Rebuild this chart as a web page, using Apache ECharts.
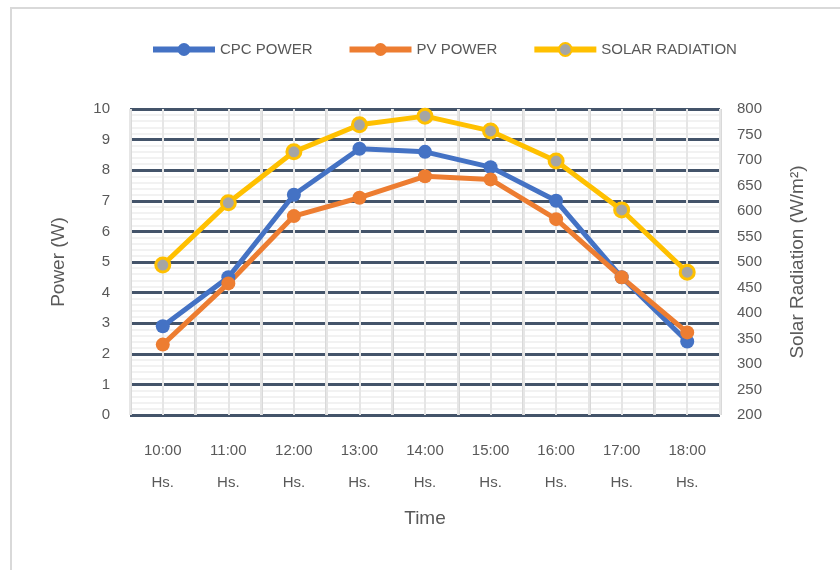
<!DOCTYPE html>
<html>
<head>
<meta charset="utf-8">
<script src="https://cdn.jsdelivr.net/npm/echarts@6/dist/echarts.min.js"></script>
<style>
  html, body { margin: 0; padding: 0; background: #fff; }
  #chart { width: 840px; height: 570px; }
</style>
</head>
<body>
<div id="chart"></div>
<script>
    var hours = ['10:00', '11:00', '12:00', '13:00', '14:00', '15:00', '16:00', '17:00', '18:00'];
    var cpcPower = [2.9, 4.5, 7.2, 8.7, 8.6, 8.1, 7.0, 4.5, 2.4];
    var pvPower = [2.3, 4.3, 6.5, 7.1, 7.8, 7.7, 6.4, 4.5, 2.7];
    var solarRadiation = [494, 616, 716, 769, 786, 757, 698, 602, 480];

    var chartDom = document.getElementById('chart');
    var chart = echarts.init(chartDom);

    var textGray = '#595959';
    var fontFam = '"Liberation Sans Narrow", "Liberation Sans", sans-serif';

    function lineSeries(name, data, color, axisIdx, symbolColor) {
      return {
        name: name,
        type: 'line',
        yAxisIndex: axisIdx,
        data: data,
        symbol: 'circle',
        symbolSize: 14,
        lineStyle: { width: 5, color: color },
        itemStyle: {
          color: symbolColor || color,
          borderColor: color,
          borderWidth: symbolColor ? 3 : 0
        },
        z: 5
      };
    }

    var option = {
      animation: false,
      graphic: [{
        type: 'rect',
        shape: { x: 11, y: 8, width: 840, height: 580 },
        style: { fill: 'none', stroke: '#d9d9d9', lineWidth: 2 },
        silent: true
      }],
      legend: {
        top: 37,
        left: 145,
        itemWidth: 62,
        itemHeight: 16,
        itemGap: 34,
        lineStyle: { width: 6 },
        textStyle: { color: textGray, fontSize: 15, fontFamily: fontFam },
        data: ['CPC POWER', 'PV POWER', 'SOLAR RADIATION']
      },
      grid: { left: 130, right: 120, top: 109, bottom: 155 },
      xAxis: [{
        type: 'category',
        data: hours.map(h => h + '\nHs.'),
        name: 'Time',
        nameLocation: 'middle',
        nameGap: 94,
        nameTextStyle: { color: textGray, fontSize: 19, fontFamily: fontFam },
        axisLine: { show: false },
        axisTick: { show: false },
        axisLabel: {
          color: textGray, fontSize: 15, fontFamily: fontFam,
          lineHeight: 32, margin: 20
        },
        splitLine: { show: true, lineStyle: { color: '#d9d9d9', width: 3 } }
      }, {
        type: 'value',
        min: 0, max: 18, interval: 1,
        show: true,
        axisLine: { show: false },
        axisTick: { show: false },
        axisLabel: { show: false },
        splitLine: { show: true, lineStyle: { color: '#e6e6e6', width: 2 } }
      }],
      yAxis: [{
        type: 'value',
        min: 0, max: 10, interval: 1,
        name: 'Power (W)',
        nameLocation: 'middle',
        nameGap: 62,
        nameTextStyle: { color: textGray, fontSize: 19, fontFamily: fontFam },
        axisLine: { show: false },
        axisTick: { show: false },
        axisLabel: { color: textGray, fontSize: 15, fontFamily: fontFam, margin: 20 },
        splitLine: { show: true, lineStyle: { color: '#44546a', width: 3 } },
        minorTick: { show: false, splitNumber: 5 },
        minorSplitLine: { show: true, lineStyle: { color: '#eeeeee', width: 1.5 } }
      }, {
        type: 'value',
        min: 200, max: 800, interval: 50,
        name: 'Solar Radiation (W/m²)',
        nameLocation: 'middle',
        nameGap: 68,
        nameTextStyle: { color: textGray, fontSize: 19, fontFamily: fontFam },
        axisLine: { show: false },
        axisTick: { show: false },
        axisLabel: { color: textGray, fontSize: 15, fontFamily: fontFam, margin: 17 },
        splitLine: { show: false }
      }],
      series: [
        lineSeries('CPC POWER', cpcPower, '#4472c4', 0),
        lineSeries('PV POWER', pvPower, '#ed7d31', 0),
        lineSeries('SOLAR RADIATION', solarRadiation, '#ffc000', 1, '#a5a5a5')
      ]
    };

    chart.setOption(option);

    window.addEventListener('resize', function () {
      chart.resize();
    });
</script>
</body>
</html>
